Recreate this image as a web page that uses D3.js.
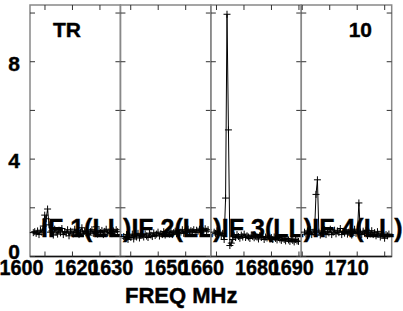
<!DOCTYPE html>
<html>
<head>
<meta charset="utf-8">
<script src="https://cdnjs.cloudflare.com/ajax/libs/d3/7.8.5/d3.min.js"></script>
<style>
  body { margin: 0; background: #fff; }
  svg { display: block; }
  text { font-family: "Liberation Sans", Arial, sans-serif; font-weight: bold; fill: #000; stroke: #000; stroke-width: 0.4; }
</style>
</head>
<body>
<div id="chart"></div>
<script>
// POSSM style spectrum, 4 IFs side by side
var W = 403, H = 311;

var ifNames = ["IF 1(LL)", "IF 2(LL)", "IF 3(LL)", "IF 4(LL)"];
var ifStart = [1594.55, 1626.25, 1657.95, 1689.65];   // MHz at left edge of each panel
var ifSpan = 32.9;
var chanOffset = 1.2, chanWidth = 0.52;

var yTicks = [0, 2, 4, 6, 8, 10];
var yLabels = [0, 4, 8];
var xTicks = [[1600, 1610, 1620], [1630, 1640, 1650], [1660, 1670, 1680, 1690], [1690, 1700, 1710, 1720]];
var xLabels = [[1600, 1620], [1630, 1650], [1660, 1680], [1690, 1710]];
var labelShift = [-23.5, -19.5, -14.5, -10.5];  // labels sit left of their ticks

var spec1 = [0.98, 1.02, 0.95, 1.05, 0.9, 1.08, 1.0, 1.25, 1.7, 1.55,
    1.95, 1.3, 1.0, 1.05, 0.88, 1.12, 1.0, 0.92, 1.08, 0.97,
    1.15, 0.9, 1.02, 0.96, 1.1, 0.85, 1.04, 1.0, 0.93, 1.12,
    0.98, 1.06, 0.9, 1.0, 1.18, 0.94, 1.03, 0.97, 1.08, 0.88,
    1.02, 1.1, 0.95, 1.0, 1.22, 0.92, 1.05, 0.98, 1.07, 0.9,
    1.03, 1.12, 0.96, 1.0, 1.08, 0.94, 1.05, 1.0, 1.1, 1.02];
var spec2 = [0.82, 0.75, 0.9, 0.7, 0.85, 0.78, 0.92, 0.72, 0.88, 0.8,
    0.95, 0.76, 0.86, 0.9, 0.8, 0.93, 0.84, 0.78, 0.96, 0.88,
    0.82, 0.97, 0.86, 0.92, 1.0, 0.84, 0.94, 0.9, 1.02, 0.88,
    0.96, 1.0, 0.92, 1.05, 0.9, 0.98, 1.04, 0.94, 1.08, 0.96,
    1.0, 1.1, 0.95, 1.04, 1.0, 1.12, 0.97, 1.06, 1.02, 1.1,
    0.98, 1.08, 1.04, 1.12, 1.0, 1.1, 1.06, 1.14, 1.04, 1.1];
var spec3 = [1.0, 0.95, 1.05, 0.9, 1.0, 0.85, 0.95, 0.7, 2.4, 9.95,
    5.2, 0.45, 0.55, 0.7, 0.85, 0.78, 0.9, 0.82, 0.75, 0.88,
    0.8, 0.92, 0.78, 0.85, 0.8, 0.74, 0.88, 0.82, 0.77, 0.85,
    0.8, 0.72, 0.86, 0.78, 0.82, 0.7, 0.8, 0.76, 0.84, 0.72,
    0.78, 0.7, 0.8, 0.74, 0.68, 0.78, 0.72, 0.66, 0.76, 0.7,
    0.64, 0.74, 0.68, 0.62, 0.72, 0.66, 0.6, 0.7, 0.64, 0.62];
var spec4 = [1.0, 0.92, 1.05, 0.95, 1.1, 0.9, 1.0, 1.05, 2.55, 3.15,
    1.0, 0.88, 1.05, 0.95, 1.1, 0.9, 1.02, 0.97, 1.12, 0.9,
    1.0, 1.08, 0.93, 1.05, 0.98, 1.15, 0.9, 1.03, 0.96, 1.1,
    0.92, 1.0, 1.06, 0.88, 1.0, 1.12, 0.95, 1.05, 2.2, 1.0,
    0.9, 1.04, 0.95, 1.08, 0.86, 1.0, 0.93, 1.06, 0.9, 0.98,
    0.85, 1.02, 0.92, 0.8, 0.96, 0.88, 0.75, 0.9, 0.85, 0.92];
var spectra = [spec1, spec2, spec3, spec4];

var svg = d3.select('#chart').append('svg').attr('width', W).attr('height', H);

var band = d3.scaleBand().domain([0, 1, 2, 3]).range([30, 391.7]).paddingInner(0);
var bw = band.bandwidth();
var y = d3.scaleLinear().domain([0, 10.33]).range([256.5, 5]);
var tickLen = 5, cross = 3.5;

ifNames.forEach(function (name, p) {
    var x0 = band(p), x1 = x0 + bw;
    var x = d3.scaleLinear().domain([ifStart[p], ifStart[p] + ifSpan]).range([x0, x1]);
    var g = svg.append('g');

    // frame
    g.append('rect').attr('x', x0).attr('y', y(10.33)).attr('width', bw).attr('height', y(0) - y(10.33))
        .attr('fill', 'none').attr('stroke', '#888').attr('stroke-width', 1.5);
    g.append('line').attr('x1', x0).attr('x2', x1).attr('y1', y(0)).attr('y2', y(0))
        .attr('stroke', '#111').attr('stroke-width', 1.5);

    // y ticks both sides
    g.selectAll('.yl').data(yTicks).enter().append('line')
        .attr('x1', x0).attr('x2', x0 + tickLen)
        .attr('y1', function (d) { return y(d); }).attr('y2', function (d) { return y(d); })
        .attr('stroke', '#333');
    g.selectAll('.yr').data(yTicks).enter().append('line')
        .attr('x1', x1 - tickLen).attr('x2', x1)
        .attr('y1', function (d) { return y(d); }).attr('y2', function (d) { return y(d); })
        .attr('stroke', '#333');

    // x ticks top and bottom
    g.selectAll('.xb').data(xTicks[p]).enter().append('line')
        .attr('x1', function (d) { return x(d); }).attr('x2', function (d) { return x(d); })
        .attr('y1', y(0)).attr('y2', y(0) - tickLen).attr('stroke', '#333');
    g.selectAll('.xt').data(xTicks[p]).enter().append('line')
        .attr('x1', function (d) { return x(d); }).attr('x2', function (d) { return x(d); })
        .attr('y1', y(10.33)).attr('y2', y(10.33) + tickLen).attr('stroke', '#333');

    // x labels, a bit condensed like the plot font
    g.selectAll('.xlab').data(xLabels[p]).enter().append('text')
        .attr('transform', function (d) { return 'translate(' + (x(d) + labelShift[p]) + ',275) scale(0.9,1)'; })
        .attr('text-anchor', 'middle').attr('font-size', 22)
        .text(function (d) { return d; });

    // spectrum
    var freq = function (d, i) { return ifStart[p] + chanOffset + i * chanWidth; };
    var line = d3.line().x(function (d, i) { return x(freq(d, i)); }).y(function (d) { return y(d); });
    g.append('path').datum(spectra[p]).attr('d', line)
        .attr('fill', 'none').attr('stroke', '#000').attr('stroke-width', 1);
    g.selectAll('.pt').data(spectra[p]).enter().append('path')
        .attr('d', function (d, i) {
            var cx = x(freq(d, i)), cy = y(d);
            return 'M' + (cx - cross) + ',' + cy + 'h' + (2 * cross) + 'M' + cx + ',' + (cy - cross) + 'v' + (2 * cross);
        })
        .attr('stroke', '#000').attr('stroke-width', 1);

    // IF label
    g.append('text').attr('x', x0 + 11).attr('y', 237).attr('font-size', 25).text(name);
});

// y labels on the left
svg.selectAll('.ylab').data(yLabels).enter().append('text')
    .attr('x', 20).attr('y', function (d) { return d === 0 ? y(d) + 2 : y(d) + 9; })
    .attr('text-anchor', 'end').attr('font-size', 21)
    .text(function (d) { return d; });

svg.append('text').attr('x', 53).attr('y', 37).attr('font-size', 21).text('TR');
svg.append('text').attr('x', 372).attr('y', 37).attr('text-anchor', 'end').attr('font-size', 21).text('10');
svg.append('text').attr('x', 125).attr('y', 303).attr('font-size', 22).text('FREQ MHz');
</script>
</body>
</html>
